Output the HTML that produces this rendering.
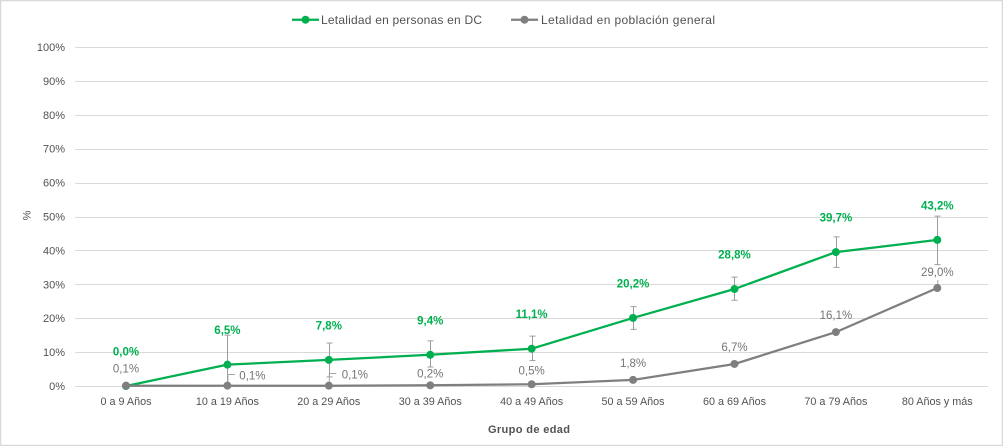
<!DOCTYPE html>
<html lang="es">
<head>
<meta charset="utf-8">
<title>Letalidad por grupo de edad</title>
<style>
html,body{margin:0;padding:0;background:#fff;}
body{width:1003px;height:446px;overflow:hidden;}
svg{display:block;font-family:"Liberation Sans",sans-serif;}
text{fill:#525252;}
</style>
</head>
<body>
<svg id="chart" xmlns="http://www.w3.org/2000/svg" width="1003" height="446" viewBox="0 0 1003 446">
  <rect x="0.5" y="0.5" width="1002" height="445" fill="#fff" stroke="#d9d9d9" stroke-width="1.5"/>
  <g>
    <g>
      <line x1="292" x2="319" y1="19.7" y2="19.7" stroke="#00b050" stroke-width="2.25"/>
      <circle cx="305.5" cy="19.7" r="4" fill="#00b050"/>
      <text x="321" y="24" font-size="12" textLength="161" lengthAdjust="spacing">Letalidad en personas en DC</text>
    </g>
    <g>
      <line x1="511" x2="538" y1="19.7" y2="19.7" stroke="#7f7f7f" stroke-width="2.25"/>
      <circle cx="524.5" cy="19.7" r="4" fill="#7f7f7f"/>
      <text x="541" y="24" font-size="12" textLength="174" lengthAdjust="spacing">Letalidad en población general</text>
    </g>
  </g>
  <text transform="translate(30.5,215.5) rotate(-90)" text-anchor="middle" font-size="11">%</text>
  <text x="529" y="433" text-anchor="middle" font-size="11" font-weight="bold" textLength="82" lengthAdjust="spacing">Grupo de edad</text>
  <g id="grid"></g>
  <g id="yticks"></g>
  <g id="xticks"></g>
  <g id="errors"></g>
  <g id="leaders"></g>
  <g id="series-dc"></g>
  <g id="series-general"></g>
  <g id="labels"></g>
</svg>
<script>
const categories = ["0 a 9 Años","10 a 19 Años","20 a 29 Años","30 a 39 Años","40 a 49 Años","50 a 59 Años","60 a 69 Años","70 a 79 Años","80 Años y más"];
const yTicks = [0,10,20,30,40,50,60,70,80,90,100];
const dcValues = [0,6.3,7.7,9.2,11,20.1,28.6,39.5,43.1];
const generalValues = [0.1,0.1,0.1,0.2,0.5,1.8,6.5,15.9,28.9];
const dcLabels = ["0,0%","6,5%","7,8%","9,4%","11,1%","20,2%","28,8%","39,7%","43,2%"];
const generalLabels = ["0,1%","0,1%","0,1%","0,2%","0,5%","1,8%","6,7%","16,1%","29,0%"];
const dcErrorHigh = [null,15,12.7,13.3,14.7,23.4,32.1,44,50.1];
const dcErrorLow = [null,0,2.7,5.6,7.5,16.7,25.3,35,35.8];
const generalLabelShiftX = [0,25,26,0,0,0,0,0,0];
const generalLabelShiftY = [-17,-10,-11,-12,-14,-17,-17,-17,-16];

const NS = "http://www.w3.org/2000/svg";
const PLOT_LEFT = 75.3, PLOT_RIGHT = 988, Y0 = 386, Y100 = 47;
const xAt = i => PLOT_LEFT + (PLOT_RIGHT - PLOT_LEFT) * (i + 0.5) / categories.length;
const yAt = v => Y0 - (Y0 - Y100) * v / 100;

function make(parent, tag, attrs, txt) {
  const node = document.createElementNS(NS, tag);
  for (const k in attrs) node.setAttribute(k, attrs[k]);
  if (txt !== undefined) node.textContent = txt;
  document.getElementById(parent).appendChild(node);
  return node;
}

yTicks.forEach(t => {
  const y = Math.round(yAt(t)) + 0.5;
  const g = make("grid", "line", {x1: PLOT_LEFT, x2: PLOT_RIGHT, y1: y, y2: y, stroke: "#d9d9d9", "stroke-width": 1});
  
  
  const l = make("yticks", "text", {x: 65, y: yAt(t) + 4, "text-anchor": "end", "font-size": 11}, t + "%");
  
  
});

categories.forEach((c, i) => {
  const l = make("xticks", "text", {x: xAt(i), y: 405, "text-anchor": "middle", "font-size": 10.8}, c);
  
  
});

dcErrorHigh.forEach((hi, i) => {
  if (hi === null) return;
  const x = Math.round(xAt(i)) + 0.5, yh = yAt(hi), yl = yAt(dcErrorLow[i]);
  const p = make("errors", "path", {d: `M${x-3} ${yh}H${x+3}M${x} ${yh}V${yl}M${x-3} ${yl}H${x+3}`, fill: "none", stroke: "#9c9c9c", "stroke-width": 1});
  
  
});

generalLabelShiftX.forEach((dx, i) => {
  if (dx === 0) return;
  const x = xAt(i) + 0.5, y = Math.round(yAt(generalValues[i]) + generalLabelShiftY[i] - 1.5) + 0.5;
  const p = make("leaders", "path", {d: `M${x} ${yAt(generalValues[i])}V${y}H${x + 7}`, fill: "none", stroke: "#a6a6a6", "stroke-width": 1});
  
  
});
const topLeader = make("leaders", "line", {x1: xAt(8) + 0.5, x2: xAt(8) + 0.5, y1: yAt(generalValues[8]), y2: yAt(generalValues[8]) - 8, stroke: "#a6a6a6", "stroke-width": 1});



function pointsOf(values) {
  return values.map((v, i) => xAt(i).toFixed(1) + "," + yAt(v).toFixed(1)).join(" ");
}

const dcLine = make("series-dc", "polyline", {points: pointsOf(dcValues), fill: "none", stroke: "#00b050", "stroke-width": 2.25, "stroke-linejoin": "round"});


dcValues.forEach((v, i) => {
  const m = make("series-dc", "circle", {cx: xAt(i), cy: yAt(v), r: 4, fill: "#00b050"});
  
  
  const t = make("labels", "text", {x: xAt(i), y: yAt(v) - 30.5, "text-anchor": "middle", "font-size": 11.5, "font-weight": "bold", style: "fill:#00b050"}, dcLabels[i]);
  
  
});

const generalLine = make("series-general", "polyline", {points: pointsOf(generalValues), fill: "none", stroke: "#7f7f7f", "stroke-width": 2.25, "stroke-linejoin": "round"});


generalValues.forEach((v, i) => {
  const m = make("series-general", "circle", {cx: xAt(i), cy: yAt(v), r: 4, fill: "#7f7f7f"});
  
  
  const t = make("labels", "text", {x: xAt(i) + generalLabelShiftX[i], y: yAt(v) + generalLabelShiftY[i] + 4, "text-anchor": "middle", "font-size": 11.5, style: "fill:#757575"}, generalLabels[i]);
  
  
});
</script>
</body>
</html>
